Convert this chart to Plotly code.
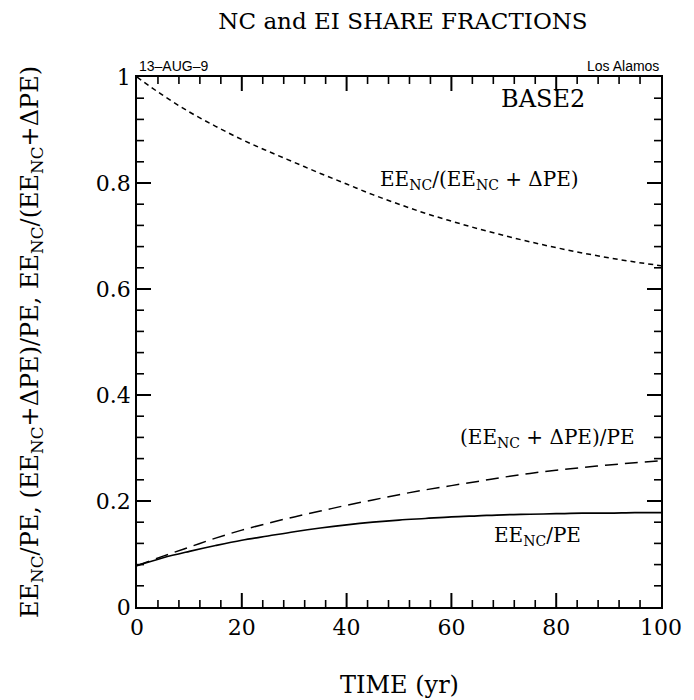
import plotly.graph_objects as go

# Time axis (years)
time_yr = [0, 5, 10, 15, 20, 25, 30, 35, 40, 45, 50, 55, 60, 65, 70, 75, 80, 85, 90, 95, 100]

# EE_NC / (EE_NC + dPE)
nc_of_ei = [1.000, 0.965, 0.934, 0.907, 0.882, 0.860, 0.839, 0.818, 0.798, 0.778, 0.760,
            0.743, 0.728, 0.714, 0.701, 0.689, 0.678, 0.668, 0.659, 0.651, 0.644]
# (EE_NC + dPE) / PE
ei_of_pe = [0.078, 0.096, 0.113, 0.130, 0.145, 0.158, 0.170, 0.181, 0.192, 0.202, 0.212,
            0.221, 0.229, 0.237, 0.245, 0.252, 0.258, 0.263, 0.268, 0.272, 0.276]
# EE_NC / PE
nc_of_pe = [0.078, 0.093, 0.105, 0.116, 0.126, 0.134, 0.142, 0.149, 0.155, 0.160, 0.164,
            0.167, 0.170, 0.172, 0.174, 0.175, 0.176, 0.177, 0.177, 0.178, 0.178]

# axis tick values
x_major = [0, 20, 40, 60, 80, 100]
y_major = [0, 0.2, 0.4, 0.6, 0.8, 1.0]
x_minor = [v for v in range(4, 100, 4) if v % 20]
y_minor = [round(k * 0.04, 2) for k in range(1, 25) if k % 5]

X_RANGE = [0, 100]
Y_RANGE = [0, 1]

SERIF = "DejaVu Serif"
SANS = "Liberation Sans"

fig = go.Figure()
fig.add_trace(go.Scatter(x=time_yr, y=nc_of_ei, mode="lines", line_shape="spline",
                         line=dict(color="black", width=1.5, dash="5px,4px")))
fig.add_trace(go.Scatter(x=time_yr, y=ei_of_pe, mode="lines", line_shape="spline",
                         line=dict(color="black", width=1.5, dash="13px,7px")))
fig.add_trace(go.Scatter(x=time_yr, y=nc_of_pe, mode="lines", line_shape="spline",
                         line=dict(color="black", width=1.7)))

frame = dict(showgrid=False, zeroline=False, showline=True, linecolor="black", linewidth=1.8,
             mirror=True, ticks="", tickfont=dict(family=SERIF, size=22, color="black"))
fig.update_xaxes(range=X_RANGE, tickvals=x_major, **frame)
fig.update_yaxes(range=Y_RANGE, tickvals=y_major, **frame)

# inward tick marks on all four sides; length in pixels, position in data units
def x_tick(v, length, width):
    for anchor, sign in ((Y_RANGE[0], 1), (Y_RANGE[1], -1)):
        fig.add_shape(type="line", xref="x", yref="y", ysizemode="pixel", yanchor=anchor,
                      x0=v, x1=v, y0=0, y1=sign * length,
                      line=dict(color="black", width=width), layer="above")

def y_tick(v, length, width):
    for anchor, sign in ((X_RANGE[0], 1), (X_RANGE[1], -1)):
        fig.add_shape(type="line", xref="x", yref="y", xsizemode="pixel", xanchor=anchor,
                      y0=v, y1=v, x0=0, x1=sign * length,
                      line=dict(color="black", width=width), layer="above")

for v in x_major[1:-1]:
    x_tick(v, 14, 2)
for v in x_minor:
    x_tick(v, 7, 1.6)
for v in y_major[1:-1]:
    y_tick(v, 14, 2)
for v in y_minor:
    y_tick(v, 7, 1.6)

ann = []
# curve labels
ann.append(dict(x=65.4, y=0.805, xref="x", yref="y", showarrow=False,
                text="EE<sub>NC</sub>/(EE<sub>NC</sub> + ΔPE)",
                font=dict(family=SERIF, size=20, color="black")))
ann.append(dict(x=78.4, y=0.318, xref="x", yref="y", showarrow=False,
                text="(EE<sub>NC</sub> + ΔPE)/PE",
                font=dict(family=SERIF, size=20, color="black")))
ann.append(dict(x=76.4, y=0.134, xref="x", yref="y", showarrow=False,
                text="EE<sub>NC</sub>/PE",
                font=dict(family=SERIF, size=20, color="black")))
ann.append(dict(x=77.5, y=0.958, xref="x", yref="y", showarrow=False,
                text="BASE2", font=dict(family=SERIF, size=24, color="black")))
# corner stamps
ann.append(dict(x=0, y=1, xref="paper", yref="paper", xanchor="left", yanchor="bottom",
                yshift=1, showarrow=False, text="13–AUG–9",
                font=dict(family=SANS, size=14, color="black")))
ann.append(dict(x=1, y=1, xref="paper", yref="paper", xanchor="right", yanchor="bottom",
                yshift=1, showarrow=False, text="Los Alamos",
                font=dict(family=SANS, size=14, color="black")))
# axis titles
ann.append(dict(x=0.5, y=0, xref="paper", yref="paper", xanchor="center", yanchor="top",
                yshift=-62, showarrow=False, text="TIME (yr)",
                font=dict(family=SERIF, size=24, color="black")))
ann.append(dict(x=0, y=0.5, xref="paper", yref="paper", xanchor="center", yanchor="middle",
                xshift=-106, showarrow=False, textangle=-90,
                text="EE<sub>NC</sub>/PE, (EE<sub>NC</sub>+ΔPE)/PE, EE<sub>NC</sub>/(EE<sub>NC</sub>+ΔPE)",
                font=dict(family=SERIF, size=24, color="black")))

fig.update_layout(
    width=694, height=700,
    margin=dict(l=137, r=24, t=77, b=93),
    paper_bgcolor="white", plot_bgcolor="white",
    showlegend=False,
    title=dict(text="NC and EI SHARE FRACTIONS", x=403 / 694, xanchor="center",
               y=0.97, yanchor="middle",
               font=dict(family=SERIF, size=23, color="black")),
    annotations=ann,
)

fig.write_html("out.html")
